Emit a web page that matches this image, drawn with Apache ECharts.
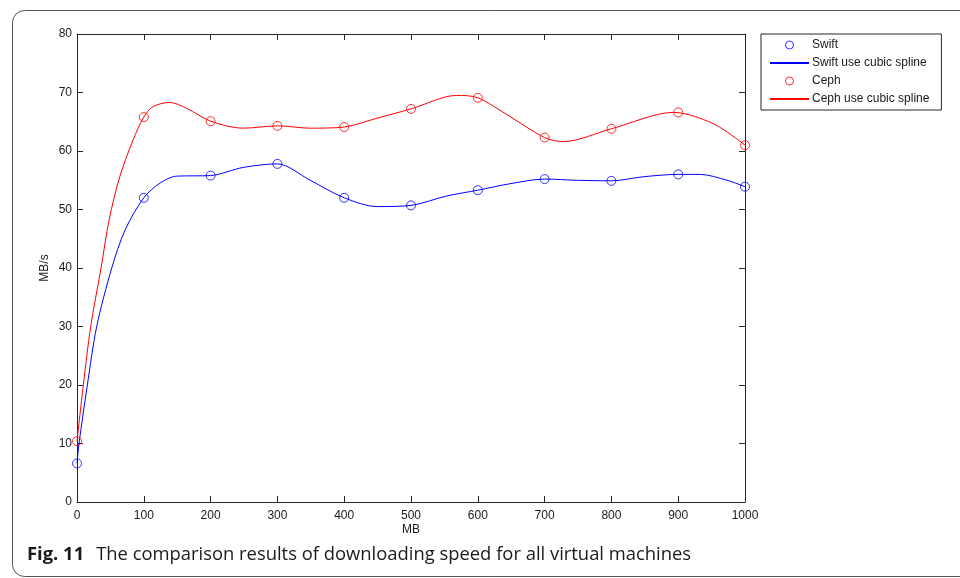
<!DOCTYPE html>
<html>
<head>
<meta charset="utf-8">
<script src="https://cdn.jsdelivr.net/npm/echarts@6/dist/echarts.min.js"></script>
<style>
  html, body { margin: 0; padding: 0; background: #fff; }
  #chart { width: 960px; height: 578px; }
</style>
</head>
<body>
<div id="chart"></div>
<script>
// measured points (MB -> MB/s)
const sizes = [0, 100, 200, 300, 400, 500, 600, 700, 800, 900, 1000];
const swift = [6.6, 52.0, 55.8, 57.8, 52.0, 50.7, 53.3, 55.2, 54.9, 56.0, 53.9];
const ceph = [10.4, 65.8, 65.1, 64.3, 64.1, 67.2, 69.1, 62.3, 63.8, 66.6, 61.0];

// spline curves
const swiftSplineX = [0, 3, 15.5, 29.5, 52, 72, 100, 124, 149, 200, 249, 300, 349, 400, 449, 500, 553, 600, 648, 700, 748, 800, 848, 900, 933, 973, 1000];
const swiftSplineY = [6.6, 10, 20, 30, 40, 46.5, 52.0, 54.5, 55.7, 55.8, 57.2, 57.8, 55.0, 52.0, 50.5, 50.7, 52.3, 53.3, 54.4, 55.2, 55.0, 54.9, 55.6, 56.0, 56.0, 55.0, 53.9];
const cephSplineX = [0, 9.5, 20.5, 36, 48, 64, 84, 100, 114, 139, 164, 200, 249, 300, 349, 400, 449, 500, 568, 600, 648, 700, 728, 800, 893, 952, 1000];
const cephSplineY = [10.4, 20, 30, 40, 48.2, 55.6, 61.9, 65.8, 67.6, 68.3, 67.3, 65.1, 63.9, 64.3, 63.9, 64.1, 65.6, 67.2, 69.5, 69.1, 65.9, 62.3, 61.6, 63.8, 66.6, 64.7, 61.0];

const BLUE = '#0000ff';
const RED = '#ff0000';
const AXIS = '#262626';
const FONT = 'Liberation Sans';

const zip = (xs, ys) => xs.map((x, i) => [x, ys[i]]);

const chart = echarts.init(document.getElementById('chart'));

const axisCommon = {
  type: 'value',
  axisLine: { show: true, onZero: false, lineStyle: { color: AXIS, width: 1 } },
  axisTick: { show: true, inside: true, length: 6, lineStyle: { color: AXIS } },
  splitLine: { show: false },
  axisLabel: { color: '#1a1a1a', fontSize: 12, fontFamily: FONT, formatter: v => String(v) }
};

const options = {
  animation: false,
  backgroundColor: '#fff',
  textStyle: { fontFamily: FONT },
  grid: { left: 77, top: 34, right: 215, bottom: 76, containLabel: false },
  title: {
    left: 27,
    top: 546,
    padding: 0,
    text: '{b|Fig. 11}{n|The comparison results of downloading speed for all virtual machines}',
    textStyle: {
      fontWeight: 'normal',
      rich: {
        b: { fontFamily: 'Open Sans', fontWeight: 'bold', fontSize: 18.4, color: '#1a1a1a', padding: [0, 12, 0, 0] },
        n: { fontFamily: 'Open Sans', fontWeight: 'normal', fontSize: 18.4, color: '#1a1a1a' }
      }
    }
  },
  graphic: [{
    type: 'rect',
    shape: { x: 12.5, y: 10.5, width: 990, height: 566, r: 12 },
    style: { fill: 'none', stroke: '#555', lineWidth: 1 },
    silent: true
  }],
  legend: {
    orient: 'vertical',
    left: 761,
    top: 34,
    padding: [4, 12, 4, 8],
    itemGap: 4,
    itemWidth: 39,
    itemHeight: 8,
    backgroundColor: '#fff',
    borderColor: AXIS,
    borderWidth: 1,
    borderRadius: 0,
    textStyle: { fontFamily: FONT, fontSize: 12, color: '#1a1a1a', lineHeight: 14, padding: [0, 0, 0, -2] },
    data: [
      { name: 'Swift', itemStyle: { borderWidth: 1 } },
      { name: 'Swift use cubic spline', itemStyle: { opacity: 0 } },
      { name: 'Ceph', itemStyle: { borderWidth: 1 } },
      { name: 'Ceph use cubic spline', itemStyle: { opacity: 0 } }
    ]
  },
  xAxis: [
    Object.assign({}, axisCommon, {
      position: 'bottom', min: 0, max: 1000, interval: 100,
      name: 'MB', nameLocation: 'middle', nameGap: 22, nameMoveOverlap: false,
      nameTextStyle: { color: '#1a1a1a', fontSize: 12, fontFamily: FONT },
      axisLabel: Object.assign({}, axisCommon.axisLabel, { margin: 8 })
    }),
    Object.assign({}, axisCommon, {
      position: 'top', min: 0, max: 1000, interval: 100,
      axisLabel: { show: false }
    })
  ],
  yAxis: [
    Object.assign({}, axisCommon, {
      position: 'left', min: 0, max: 80, interval: 10,
      name: 'MB/s', nameLocation: 'middle', nameGap: 26, nameMoveOverlap: false,
      nameTextStyle: { color: '#1a1a1a', fontSize: 12, fontFamily: FONT },
      axisLabel: Object.assign({}, axisCommon.axisLabel, { margin: 5 })
    }),
    Object.assign({}, axisCommon, {
      position: 'right', min: 0, max: 80, interval: 10,
      axisLabel: { show: false }
    })
  ],
  series: [
    {
      name: 'Swift use cubic spline',
      type: 'line',
      data: zip(swiftSplineX, swiftSplineY),
      smooth: 0.3,
      symbol: 'none',
      lineStyle: { color: BLUE, width: 1 },
      itemStyle: { color: BLUE }
    },
    {
      name: 'Ceph use cubic spline',
      type: 'line',
      data: zip(cephSplineX, cephSplineY),
      smooth: 0.3,
      symbol: 'none',
      lineStyle: { color: RED, width: 1 },
      itemStyle: { color: RED }
    },
    {
      name: 'Swift',
      type: 'scatter',
      data: zip(sizes, swift),
      symbol: 'circle',
      symbolSize: 9,
      itemStyle: { color: 'rgba(0,0,0,0)', borderColor: BLUE, borderWidth: 1 },
      z: 3
    },
    {
      name: 'Ceph',
      type: 'scatter',
      data: zip(sizes, ceph),
      symbol: 'circle',
      symbolSize: 9,
      itemStyle: { color: 'rgba(0,0,0,0)', borderColor: RED, borderWidth: 1 },
      z: 3
    }
  ]
};

chart.setOption(options);
</script>
</body>
</html>
